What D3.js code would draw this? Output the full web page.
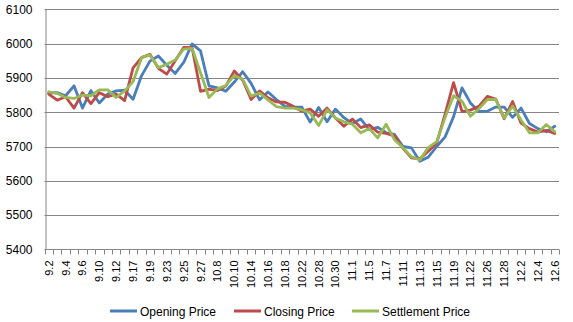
<!DOCTYPE html>
<html><head><meta charset="utf-8">
<script src="https://cdn.jsdelivr.net/npm/d3@7"></script>
<style>body{margin:0;background:#fff}svg{display:block}</style>
</head><body><div id="chart"></div>
<script>
const dates = ["9.2","9.3","9.4","9.5","9.6","9.9","9.10","9.11","9.12","9.13","9.17","9.18","9.19","9.20","9.23","9.24","9.25","9.26","9.27","9.30",
"10.8","10.9","10.10","10.11","10.14","10.15","10.16","10.17","10.18","10.21","10.22","10.25","10.28","10.29","10.30","10.31",
"11.1","11.4","11.5","11.6","11.7","11.8","11.11","11.12","11.13","11.14","11.15","11.18","11.19","11.20","11.22","11.25","11.26","11.27","11.28","11.29",
"12.2","12.3","12.4","12.5","12.6"];
const opening = [5856,5857,5848,5877,5812,5863,5827,5853,5862,5864,5838,5906,5949,5964,5937,5913,5945,5999,5979,5877,
5871,5861,5888,5918,5884,5836,5859,5837,5817,5815,5815,5771,5814,5772,5809,5784,
5767,5780,5749,5756,5740,5735,5700,5696,5657,5669,5700,5728,5787,5871,5827,5802,5803,5815,5815,5785,
5812,5767,5752,5743,5759];
const closing = [5853,5835,5845,5812,5857,5825,5857,5845,5853,5834,5929,5959,5969,5928,5911,5950,5989,5988,5861,5867,
5863,5876,5920,5893,5837,5862,5842,5830,5829,5817,5803,5809,5788,5812,5783,5759,
5780,5755,5763,5742,5738,5731,5695,5667,5664,5686,5710,5795,5886,5802,5806,5817,5846,5838,5781,5831,
5768,5752,5742,5747,5738];
const settlement = [5859,5855,5843,5840,5850,5848,5865,5865,5843,5862,5889,5959,5967,5930,5940,5952,5984,5986,5915,5843,
5868,5878,5907,5896,5847,5856,5836,5816,5812,5812,5807,5798,5761,5807,5783,5772,
5765,5740,5752,5725,5765,5720,5696,5670,5661,5697,5714,5785,5848,5832,5788,5810,5837,5837,5783,5818,
5777,5740,5740,5764,5743];
const seriesNames = ["Opening Price","Closing Price","Settlement Price"];
const seriesColors = ["#4A7EBB","#BE4B48","#98B954"];
const yTicks = [5400,5500,5600,5700,5800,5900,6000,6100];

(function(){
const W=573,H=322, mLeft=44.5, mRight=559, mTop=9.3, mBottom=249.4;
const FONT="'Liberation Sans', Arial, sans-serif";
const svg = d3.select("#chart").append("svg").attr("width",W).attr("height",H)
  .style("font-family",FONT);

const x = d3.scaleBand().domain(dates).range([mLeft,mRight]).padding(0);
const y = d3.scaleLinear().domain([5400,6100]).range([mBottom,mTop]);

// gridlines
svg.append("g").selectAll("line").data(yTicks.filter(d=>d>5400)).join("line")
  .attr("x1",mLeft).attr("x2",mRight).attr("y1",d=>Math.round(y(d))+0.5).attr("y2",d=>Math.round(y(d))+0.5)
  .attr("stroke","#868686").attr("stroke-width",1);

// y axis
const yAxis = svg.append("g").attr("transform",`translate(${Math.round(mLeft)+0.5},0)`)
  .call(d3.axisLeft(y).tickValues(yTicks).tickSize(0).tickPadding(13).tickFormat(d3.format("d")));
yAxis.select(".domain").attr("stroke","#868686");
yAxis.selectAll("text").attr("font-size",12).attr("fill","#000").style("font-family",FONT);
yAxis.selectAll(".tick line").remove();

// x axis
const xg = svg.append("g").attr("transform",`translate(0,${Math.round(mBottom)+0.5})`);
xg.append("line").attr("x1",mLeft).attr("x2",mRight).attr("stroke","#868686");
const bounds = d3.range(dates.length+1).map(i=>mLeft + i*x.bandwidth());
xg.selectAll("line.tk").data(bounds).join("line").attr("class","tk")
  .attr("x1",d=>Math.round(d)+0.5).attr("x2",d=>Math.round(d)+0.5).attr("y1",0).attr("y2",5).attr("stroke","#868686");
xg.selectAll("text").data(dates.filter((d,i)=>i%2===0)).join("text")
  .attr("transform",d=>`translate(${x(d)+x.bandwidth()/2+4},11) rotate(-90)`)
  .attr("text-anchor","end").attr("font-size",11).attr("fill","#000").text(d=>d);

// lines
const data = [opening, closing, settlement];
const line = d3.line().x((d,i)=>x(dates[i])+x.bandwidth()/2).y(d=>y(d));
svg.append("g").selectAll("path").data(data).join("path")
  .attr("d",line).attr("fill","none").attr("stroke",(d,i)=>seriesColors[i])
  .attr("stroke-width",2.8).attr("stroke-linejoin","round").attr("stroke-linecap","round");

// legend
const legX = [110,234,352];
const lg = svg.append("g").selectAll("g").data(seriesNames).join("g")
  .attr("transform",(d,i)=>`translate(${legX[i]},311)`);
lg.append("line").attr("x1",0).attr("x2",27).attr("stroke",(d,i)=>seriesColors[i]).attr("stroke-width",3);
lg.append("text").attr("x",30).attr("y",4.5).attr("font-size",12).attr("fill","#000").text(d=>d);
})();
</script></body></html>
